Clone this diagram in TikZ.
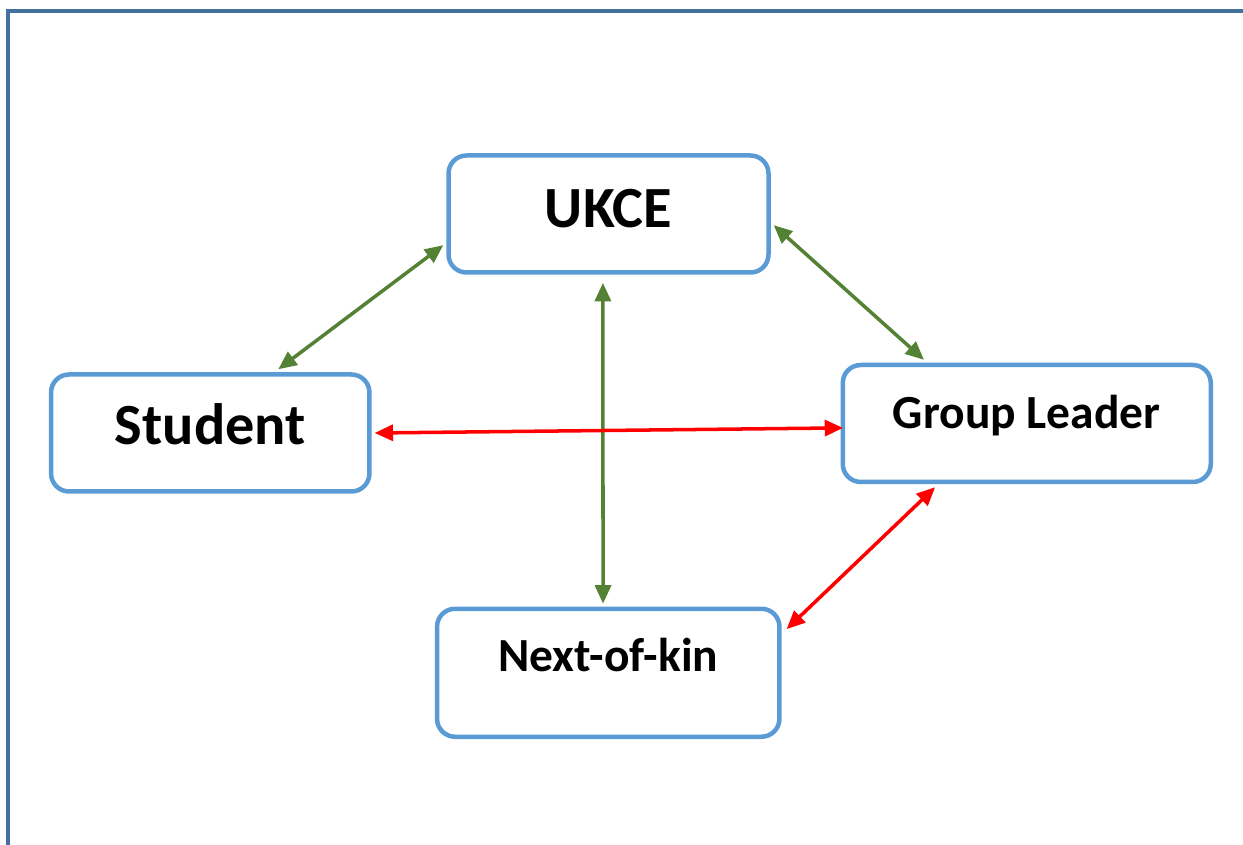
\documentclass[tikz,border=0pt]{standalone}
\usepackage{fontspec}
\setmainfont{Carlito}
\usetikzlibrary{arrows.meta}
\definecolor{boxBlue}{HTML}{5B9BD5}
\definecolor{frameBlue}{HTML}{41719C}
\definecolor{linkGreen}{HTML}{548235}
\definecolor{linkRed}{HTML}{FF0000}
\tikzset{>={Triangle[length=0.46cm,width=0.4cm]}}
\tikzset{
  entity/.style={draw=boxBlue, line width=3.2pt, rounded corners=0.45cm,
    fill=white, outer sep=0.13cm, inner sep=0pt, font=\bfseries},
  big/.style={font=\bfseries\fontsize{41.5}{48}\selectfont, text height=26.7pt},
  small/.style={font=\bfseries\fontsize{33.8}{40}\selectfont, text height=21.8pt},
  greenlink/.style={<->, draw=linkGreen, line width=2.5pt},
  redlink/.style={<->, draw=linkRed, line width=2.5pt}
}

\begin{document}
\begin{tikzpicture}
    \useasboundingbox (0,0) rectangle (31.075,21.125);
    \draw [frameBlue, line width=2.2pt] (0.2,-1) -- (0.2,20.85) -- (32,20.85);

    \node (ukce) at (15.2125,15.775) [entity, big, minimum width=8cm, minimum height=2.925cm, text depth=0.25cm] {UKCE};
    \node (student) at (5.256,10.3) [entity, big, minimum width=7.96cm, minimum height=2.925cm, text depth=0.35cm] {Student};
    \node (leader) at (25.669,10.5375) [entity, small, minimum width=9.2cm, minimum height=2.925cm, text depth=0.53cm] {Group Leader};
    \node (kin) at (15.206,4.306) [entity, small, minimum width=8.56cm, minimum height=3.2cm, text depth=0.84cm] {Next-of-kin};

    \draw [greenlink] ([xshift=1.7cm]student.north) -- ([yshift=-0.78cm]ukce.west);
    \draw [greenlink] ([yshift=-0.28cm]ukce.east) -- ([xshift=-2.57cm]leader.north);
    \draw [greenlink] ([xshift=-0.14cm,yshift=-0.13cm]ukce.south) -- ([xshift=-0.13cm]kin.north);
    \draw [redlink] (student.east) -- ([xshift=0.14cm,yshift=-0.11cm]leader.west);
    \draw [redlink] ([xshift=-2.29cm]leader.south) -- ([xshift=0.05cm,yshift=1.09cm]kin.east);
\end{tikzpicture}
\end{document}
